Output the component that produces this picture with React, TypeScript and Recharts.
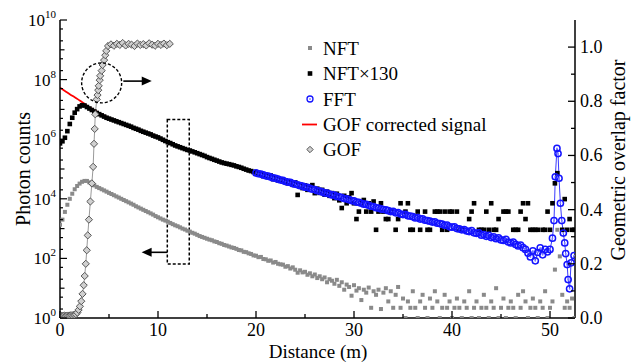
import React from 'react';
import {
  ComposedChart,
  Scatter,
  Line,
  XAxis,
  YAxis,
  ReferenceArea,
  ReferenceLine,
  ReferenceDot,
} from 'recharts';

const W = 633;
const H = 362;
const FONT = '"Liberation Serif", "Times New Roman", serif';

// distance grid (m) shared by NFT / NFT×130 samples
const distance = Array.from({ length: 211 }, (_, i) => i * 0.25);

// NFT photon counts (gray squares)
const nft: (number | null)[] = [
  1.35e3, 2.0e3, 3.63e3, 6.31e3, 1.0e4, 1.48e4, 2.09e4, 2.69e4, 3.24e4, 3.72e4,
  3.98e4, 3.98e4, 3.55e4, 3.09e4, 2.82e4, 2.51e4, 2.29e4, 2.09e4, 1.91e4, 1.74e4,
  1.58e4, 1.45e4, 1.32e4, 1.2e4, 1.1e4, 1.0e4, 9.12e3, 8.32e3, 7.59e3, 6.92e3,
  6.31e3, 5.62e3, 5.13e3, 4.68e3, 4.27e3, 3.89e3, 3.55e3, 3.24e3, 2.95e3, 2.63e3,
  2.4e3, 2.19e3, 2.0e3, 1.86e3, 1.7e3, 1.55e3, 1.41e3, 1.29e3, 1.2e3, 1.1e3,
  1.0e3, 933, 851, 794, 724, 676, 617, 562, 525, 490,
  457, 427, 407, 372, 355, 324, 309, 282, 269, 251,
  234, 224, 209, 191, 186, 166, 162, 148, 141, 126,
  123, 110, 112, 95.5, 93.3, 83.2, 85.1, 72.4, 75.9, 66.1,
  63.1, 61.7, 52.5, 55.0, 45.7, 50.1, 41.7, 33.1, 39.8, 33.9,
  35.5, 28.2, 31.6, 25.1, 28.8, 21.9, 25.1, 20.0, 22.9, 15.8,
  20.0, 17.8, 14.1, 19.1, 12.0, 15.8, 8.9, 13.2, 11.0, 5.6,
  12.6, 8.3, 10, 4.0, 8.9, 7.1, 10.5, 2.2, 7.9, 6.0,
  8.9, 2.0, 7.1, 10, 3.6, 7.9, 2.2, 6.0, 11, 2.2,
  4.5, 1, 3.6, 2.2, 7.9, 2.2, 1, 3.6, 6.0, 2.2,
  1, 4.5, 2.2, 7.9, 3.6, 1, 2.2, 6.0, 2.2, 3.6,
  1, 2.2, 4.5, 2.2, 1, 3.6, 2.2, 7.9, 1, 2.2,
  3.6, 1, 2.2, 6.0, 2.2, 1, 3.6, 2.2, 10, 1,
  2.2, 4.5, 1, 2.2, 3.6, 2.2, 1, 6.0, 2.2, 7.9,
  3.6, 1, 2.2, 4.5, 2.2, 1, 3.6, 2.2, 7.9, 1,
  2.2, 3.6, 42, 912, 117, 6.0, 2.2, 3.6, 2.2, 4.5,
  1,
];

// NFT×130 (black squares)
const nft130: (number | null)[] = [
  7.24e5, 8.51e5, 1.12e6, 1.86e6, 3.24e6, 5.25e6, 7.76e6, 1.02e7, 1.26e7, 1.38e7,
  1.35e7, 1.2e7, 1.07e7, 9.55e6, 8.51e6, 7.59e6, 6.92e6, 6.31e6, 5.75e6, 5.25e6,
  4.9e6, 4.57e6, 4.27e6, 3.98e6, 3.72e6, 3.47e6, 3.24e6, 3.02e6, 2.82e6, 2.63e6,
  2.4e6, 2.24e6, 2.09e6, 1.91e6, 1.78e6, 1.66e6, 1.55e6, 1.45e6, 1.32e6, 1.23e6,
  1.15e6, 1.05e6, 9.55e5, 8.71e5, 7.94e5, 7.41e5, 6.76e5, 6.17e5, 5.75e5, 5.37e5,
  5.01e5, 4.68e5, 4.37e5, 4.17e5, 3.89e5, 3.63e5, 3.39e5, 3.16e5, 2.95e5, 2.75e5,
  2.51e5, 2.34e5, 2.19e5, 2.04e5, 1.91e5, 1.78e5, 1.66e5, 1.58e5, 1.51e5, 1.45e5,
  1.38e5, 1.32e5, 1.23e5, 1.17e5, 1.1e5, 1.02e5, 9.55e4, 8.91e4, 8.51e4, 7.94e4,
  7.76e4, 6.76e4, 7.08e4, 5.75e4, 6.31e4, 5.37e4, 6.03e4, 4.57e4, 5.25e4, 4.17e4,
  4.47e4, 3.8e4, 4.17e4, 3.31e4, 3.8e4, 2.95e4, 3.55e4, 1.35e4, 3.02e4, 2.29e4,
  2.82e4, 2.0e4, 2.51e4, 2.88e4, 1.55e4, 2.19e4, 1.58e4, 2.0e4, 1.38e4, 1.74e4,
  1.26e4, 1.55e4, 1.05e4, 1.48e4, 8.91e3, 4.9e3, 1.26e4, 7.08e3, 1.12e4, 1.55e4,
  7.08e3, 2.09e3, 3.72e3, 7.08e3, 9.12e3, 3.72e3, 7.08e3, 3.72e3, 8.13e3, 912,
  3.72e3, 7.08e3, 3.72e3, 2.09e3, 2.09e3, 3.72e3, null, 912, 2.09e3, 7.08e3,
  null, 3.72e3, 7.08e3, 912, 912, null, 3.72e3, 912, null, 3.72e3,
  912, 912, null, 3.72e3, 3.72e3, 3.72e3, 912, 3.72e3, 912, 3.72e3,
  3.72e3, null, 3.72e3, 912, 912, null, null, 2.09e3, 3.72e3, 7.08e3,
  null, 912, 912, 912, 3.72e3, 912, 7.08e3, 912, 912, 2.09e3,
  null, 3.72e3, 3.72e3, 3.72e3, null, 912, 912, 912, 3.72e3, 7.08e3,
  2.09e3, 7.08e3, 912, 912, 912, 912, null, 912, 912, 3.72e3,
  912, 7.08e3, 3.31e4, 7.24e4, null, 912, 9.77e3, 912, 2.09e3, 912,
  912,
];

// FFT signal (blue circles), on the grid from 20.0 m to 50.25 m
const fftStartIndex = 80;
const fftGrid = [
  7.41e4, 6.92e4, 6.76e4, 6.31e4, 5.89e4, 5.75e4, 5.37e4, 5.01e4, 4.9e4, 4.57e4,
  4.27e4, 4.17e4, 3.8e4, 3.63e4, 3.55e4, 3.24e4, 3.09e4, 2.95e4, 2.75e4, 2.69e4,
  2.45e4, 2.4e4, 2.24e4, 2.09e4, 2.04e4, 1.86e4, 1.82e4, 1.7e4, 1.58e4, 1.55e4,
  1.45e4, 1.35e4, 1.32e4, 1.2e4, 1.17e4, 1.1e4, 1.02e4, 1.0e4, 9.33e3, 8.71e3,
  8.51e3, 7.76e3, 7.59e3, 7.08e3, 6.61e3, 6.46e3, 6.03e3, 5.62e3, 5.5e3, 5.01e3,
  4.9e3, 4.57e3, 4.37e3, 4.27e3, 3.98e3, 3.72e3, 3.8e3, 3.39e3, 3.47e3, 3.09e3,
  2.95e3, 3.02e3, 2.69e3, 2.63e3, 2.51e3, 2.29e3, 2.34e3, 2.09e3, 2.14e3, 1.91e3,
  1.86e3, 1.78e3, 1.66e3, 1.7e3, 1.51e3, 1.48e3, 1.41e3, 1.29e3, 1.32e3, 1.15e3,
  1.12e3, 1.15e3, 1.0e3, 977, 912, 933, 832, 794, 851, 724,
  692, 724, 603, 631, 550, 589, 501, 525, 457, 490,
  417, 398, 437, 355, 331, 355, 295, 263, 282, 229,
  200, 151, 112, 178, 83, 158, 224, 132, 200, 166,
  200, 479,
];
// FFT echo peak near the end
const fftPeakDist = [50.41, 50.54, 50.71, 50.82, 50.92, 51.06, 51.2, 51.36, 51.5, 51.6, 51.75, 51.85, 52.0, 52.15, 52.45];
const fftPeakVals = [1.86e3, 5.5e4, 4.9e5, 3.3e5, 4.9e4, 7.1e3, 1.86e3, 710, 330, 145, 62, 19.5, 9.5, 71, 123];

// GOF corrected signal (red line)
const corrDist = [0, 0.5, 1, 1.5, 2, 2.5, 3, 3.5, 4, 5, 6, 7, 8, 9, 10, 11, 12];
const corrVals = [5.37e7, 4.17e7, 3.24e7, 2.57e7, 2.0e7, 1.55e7, 1.17e7, 9.33e6, 7.59e6, 5.25e6, 3.89e6, 2.88e6, 2.24e6, 1.66e6, 1.2e6, 8.32e5, 5.25e5];

// Geometric overlap factor (right axis)
const gofDist = [
  0, 0.15, 0.3, 0.45, 0.6, 0.75, 0.9, 1.05, 1.2, 1.35, 1.5,
  1.63, 1.77, 1.9, 2.03, 2.17, 2.3, 2.42, 2.52, 2.63, 2.73,
  2.83, 2.95, 3.1, 3.25, 3.38, 3.47, 3.54, 3.6, 3.75, 3.83,
  3.9, 3.95, 4.05, 4.1, 4.25, 4.35, 4.5, 4.62, 4.72, 4.9,
  5.2, 5.5, 5.8, 6.1, 6.4, 6.7, 7.0, 7.3, 7.6, 7.9,
  8.2, 8.5, 8.8, 9.1, 9.4, 9.7, 10.0, 10.3, 10.6, 10.9, 11.2,
];
const gofVals = [
  0.008, 0.008, 0.008, 0.009, 0.008, 0.009, 0.009, 0.01, 0.01, 0.011, 0.012,
  0.014, 0.02, 0.03, 0.043, 0.062, 0.089, 0.121, 0.155, 0.2, 0.25,
  0.305, 0.363, 0.43, 0.497, 0.558, 0.643, 0.698, 0.752, 0.807, 0.823,
  0.841, 0.857, 0.878, 0.894, 0.913, 0.934, 0.952, 0.97, 0.986, 1.004,
  1.01, 1.005, 1.012, 1.008, 1.015, 1.006, 1.012, 1.009, 1.004, 1.013,
  1.008, 1.011, 1.006, 1.014, 1.009, 1.005, 1.012, 1.008, 1.013, 1.007, 1.012,
];

const xTicks = [0, 5, 10, 15, 20, 25, 30, 35, 40, 45, 50];
const leftDecades = [1, 1e1, 1e2, 1e3, 1e4, 1e5, 1e6, 1e7, 1e8, 1e9, 1e10];
const leftMinorFactors = [2, 5];
const rightTicks = [0, 0.1, 0.2, 0.3, 0.4, 0.5, 0.6, 0.7, 0.8, 0.9, 1.0];

const legendItems = ['NFT', 'NFT\u00d7130', 'FFT', 'GOF corrected signal', 'GOF'];

// ---- built tables ----
const leftTicks = [
  ...leftDecades,
  ...leftDecades.slice(0, -1).flatMap((d) => leftMinorFactors.map((f) => f * d)),
].sort((a, b) => a - b);
const nftData = distance.map((x, i) => ({ x, y: nft[i] })).filter((d) => d.y != null);
const nft130Data = distance.map((x, i) => ({ x, y: nft130[i] })).filter((d) => d.y != null);
const fftData = [
  ...fftGrid.map((y, i) => ({ x: distance[fftStartIndex + i], y })),
  ...fftPeakDist.map((x, i) => ({ x, y: fftPeakVals[i] })),
];
const corrData = corrDist.map((x, i) => ({ x, y: corrVals[i] }));
const gofData = gofDist.map((x, i) => ({ x, y: gofVals[i] }));

const AX = { stroke: '#000', strokeWidth: 1.5 };
const TXT = { fontFamily: FONT };

const LeftTick = (p: any) => {
  const { x, y, payload } = p;
  const lg = Math.log10(payload.value);
  const e = Math.round(lg);
  const isDecade = Math.abs(lg - e) < 1e-6;
  const major = isDecade && e % 2 === 0;
  const len = major ? 7 : isDecade ? 4.5 : 3;
  return (
    <g>
      <line x1={x} x2={x + len} y1={y} y2={y} stroke="#000" strokeWidth={1.2} />
      {major && (
        <text x={x - 4} y={y + 6} textAnchor="end" fontSize={17} style={TXT} fill="#000">
          10
          <tspan dy={-8} fontSize={11}>{e}</tspan>
        </text>
      )}
    </g>
  );
};

const RightTick = (p: any) => {
  const { x, y, payload } = p;
  const v = payload.value;
  const major = Math.round(v * 10) % 2 === 0;
  return (
    <g>
      <line x1={x} x2={x - (major ? 7 : 4)} y1={y} y2={y} stroke="#000" strokeWidth={1.3} />
      {major && (
        <text x={x + 5} y={y + 6} textAnchor="start" fontSize={18} style={TXT} fill="#000">
          {v.toFixed(1)}
        </text>
      )}
    </g>
  );
};

const BottomTick = (p: any) => {
  const { x, y, payload } = p;
  const v = payload.value;
  const major = v % 10 === 0;
  return (
    <g>
      <line x1={x} x2={x} y1={y} y2={y - (major ? 7 : 4)} stroke="#000" strokeWidth={1.3} />
      {major && (
        <text x={x} y={y + 18} textAnchor="middle" fontSize={18} style={TXT} fill="#000">
          {v}
        </text>
      )}
    </g>
  );
};

const TopTick = (p: any) => {
  const { x, y, payload } = p;
  const major = payload.value % 10 === 0;
  return <line x1={x} x2={x} y1={y} y2={y + (major ? 7 : 4)} stroke="#000" strokeWidth={1.3} />;
};

const GraySquare = (p: any) => (
  <rect x={p.cx - 2} y={p.cy - 2} width={4} height={4} fill="#8a8a8a" />
);
const BlackSquare = (p: any) => (
  <rect x={p.cx - 2.3} y={p.cy - 2.3} width={4.6} height={4.6} fill="#000" />
);

const blueDot = (p: any) => (
  <g key={`f${p.index}`}>
    <circle cx={p.cx} cy={p.cy} r={3.1} fill="none" stroke="#1414ff" strokeWidth={1.5} />
    <circle cx={p.cx} cy={p.cy} r={0.9} fill="#8080ff" />
  </g>
);

const diamondDot = (p: any) => (
  <path
    key={`g${p.index}`}
    d={`M${p.cx},${p.cy - 3.6} L${p.cx + 3.6},${p.cy} L${p.cx},${p.cy + 3.6} L${p.cx - 3.6},${p.cy} Z`}
    fill="#d0d0d0"
    stroke="#555"
    strokeWidth={1}
  />
);

const DashedCircle = (p: any) => (
  <circle cx={p.cx} cy={p.cy} r={20} fill="none" stroke="#000" strokeWidth={1.4} strokeDasharray="3 2" />
);
const HeadRight = (p: any) => (
  <path d={`M${p.cx},${p.cy} L${p.cx - 10},${p.cy - 4.5} L${p.cx - 10},${p.cy + 4.5} Z`} fill="#000" />
);
const HeadLeft = (p: any) => (
  <path d={`M${p.cx},${p.cy} L${p.cx + 10},${p.cy - 4.5} L${p.cx + 10},${p.cy + 4.5} Z`} fill="#000" />
);

const LegendMarker = ({ i, x, y }: { i: number; x: number; y: number }) => {
  if (i === 0) return <rect x={x - 2} y={y - 2} width={4} height={4} fill="#8a8a8a" />;
  if (i === 1) return <rect x={x - 2.3} y={y - 2.3} width={4.6} height={4.6} fill="#000" />;
  if (i === 2)
    return (
      <g>
        <circle cx={x} cy={y} r={3} fill="none" stroke="#1414ff" strokeWidth={1.3} />
        <circle cx={x} cy={y} r={0.9} fill="#8080ff" />
      </g>
    );
  if (i === 3) return <line x1={x - 8} x2={x + 7} y1={y} y2={y} stroke="#ff0000" strokeWidth={1.8} />;
  return (
    <path d={`M${x},${y - 3.2} L${x + 3.2},${y} L${x},${y + 3.2} L${x - 3.2},${y} Z`} fill="#d0d0d0" stroke="#555" strokeWidth={1} />
  );
};

export default function App() {
  const legendY = [48, 73.5, 99, 124.5, 149.5];
  return (
    <div style={{ position: 'relative', width: W, height: H, fontFamily: FONT, overflow: 'hidden' }}>
      <style>{'html,body{margin:0;padding:0;overflow:hidden;}'}</style>
      <ComposedChart width={W} height={H} margin={{ top: 20, right: 8, bottom: 14, left: 16 }}>
        <XAxis
          xAxisId="b"
          dataKey="x"
          type="number"
          domain={[0, 52.55]}
          ticks={xTicks}
          interval={0}
          allowDataOverflow
          tickLine={false}
          tickSize={0}
          tickMargin={0}
          tick={<BottomTick />}
          axisLine={AX}
          height={30}
        />
        <XAxis
          xAxisId="t"
          orientation="top"
          dataKey="x"
          type="number"
          domain={[0, 52.55]}
          ticks={xTicks}
          interval={0}
          allowDataOverflow
          tickLine={false}
          tickSize={0}
          tickMargin={0}
          tick={<TopTick />}
          axisLine={AX}
          height={0}
        />
        <YAxis
          yAxisId="l"
          type="number"
          scale="log"
          domain={[1, 1e10]}
          ticks={leftTicks}
          interval={0}
          allowDataOverflow
          tickLine={false}
          tickSize={0}
          tickMargin={0}
          tick={<LeftTick />}
          axisLine={AX}
          width={44}
        />
        <YAxis
          yAxisId="r"
          orientation="right"
          type="number"
          domain={[0, 1.1]}
          ticks={rightTicks}
          interval={0}
          allowDataOverflow
          tickLine={false}
          tickSize={0}
          tickMargin={0}
          tick={<RightTick />}
          axisLine={AX}
          width={50}
        />

        <Scatter
          name="NFT"
          data={nftData}
          dataKey="y"
          xAxisId="b"
          yAxisId="l"
          shape={GraySquare}
          isAnimationActive={false}
        />
        <Scatter
          name="NFT×130"
          data={nft130Data}
          dataKey="y"
          xAxisId="b"
          yAxisId="l"
          shape={BlackSquare}
          isAnimationActive={false}
        />
        <Line
          name="FFT"
          data={fftData}
          dataKey="y"
          xAxisId="b"
          yAxisId="l"
          stroke="#3a3aff"
          strokeWidth={1}
          dot={blueDot}
          activeDot={false}
          isAnimationActive={false}
        />
        <Line
          name="GOF corrected signal"
          data={corrData}
          dataKey="y"
          xAxisId="b"
          yAxisId="l"
          stroke="#ff0000"
          strokeWidth={1.8}
          dot={false}
          activeDot={false}
          type="monotone"
          isAnimationActive={false}
        />
        <Line
          name="GOF"
          data={gofData}
          dataKey="y"
          xAxisId="b"
          yAxisId="r"
          stroke="#9a9a9a"
          strokeWidth={1}
          dot={diamondDot}
          activeDot={false}
          isAnimationActive={false}
        />

        <ReferenceArea
          xAxisId="b"
          yAxisId="l"
          x1={10.95}
          x2={13.19}
          y1={65}
          y2={4.6e6}
          fill="none"
          fillOpacity={0}
          stroke="#000"
          strokeWidth={1.5}
          strokeDasharray="3 2"
          ifOverflow="visible"
        />
        <ReferenceDot xAxisId="b" yAxisId="l" x={4.25} y={7.76e7} r={20} shape={DashedCircle} ifOverflow="visible" />
        <ReferenceLine
          xAxisId="b"
          yAxisId="l"
          segment={[{ x: 6.46, y: 8.9e7 }, { x: 8.5, y: 8.9e7 }]}
          stroke="#000"
          strokeWidth={1.6}
          ifOverflow="visible"
        />
        <ReferenceDot xAxisId="b" yAxisId="l" x={9.36} y={8.9e7} r={1} shape={HeadRight} ifOverflow="visible" />
        <ReferenceLine
          xAxisId="b"
          yAxisId="l"
          segment={[{ x: 10.95, y: 160 }, { x: 9.2, y: 160 }]}
          stroke="#000"
          strokeWidth={1.6}
          ifOverflow="visible"
        />
        <ReferenceDot xAxisId="b" yAxisId="l" x={8.33} y={160} r={1} shape={HeadLeft} ifOverflow="visible" />
      </ComposedChart>

      <svg
        width={W}
        height={H}
        style={{ position: 'absolute', left: 0, top: 0, pointerEvents: 'none' }}
      >
        {legendItems.map((t, i) => (
          <g key={t}>
            <LegendMarker i={i} x={310} y={legendY[i]} />
            <text x={323} y={legendY[i] + 6.5} fontSize={19} style={TXT} fill="#000">
              {t}
            </text>
          </g>
        ))}
        <text
          transform="translate(23,169) rotate(-90)"
          textAnchor="middle"
          dominantBaseline="central"
          fontSize={20}
          style={TXT}
          fill="#000"
        >
          Photon counts
        </text>
        <text
          transform="translate(618,160) rotate(-90)"
          textAnchor="middle"
          dominantBaseline="central"
          fontSize={20}
          style={TXT}
          fill="#000"
        >
          Geometric overlap factor
        </text>
        <text x={318} y={357.5} textAnchor="middle" fontSize={19} style={TXT} fill="#000">
          Distance (m)
        </text>
      </svg>
    </div>
  );
}
